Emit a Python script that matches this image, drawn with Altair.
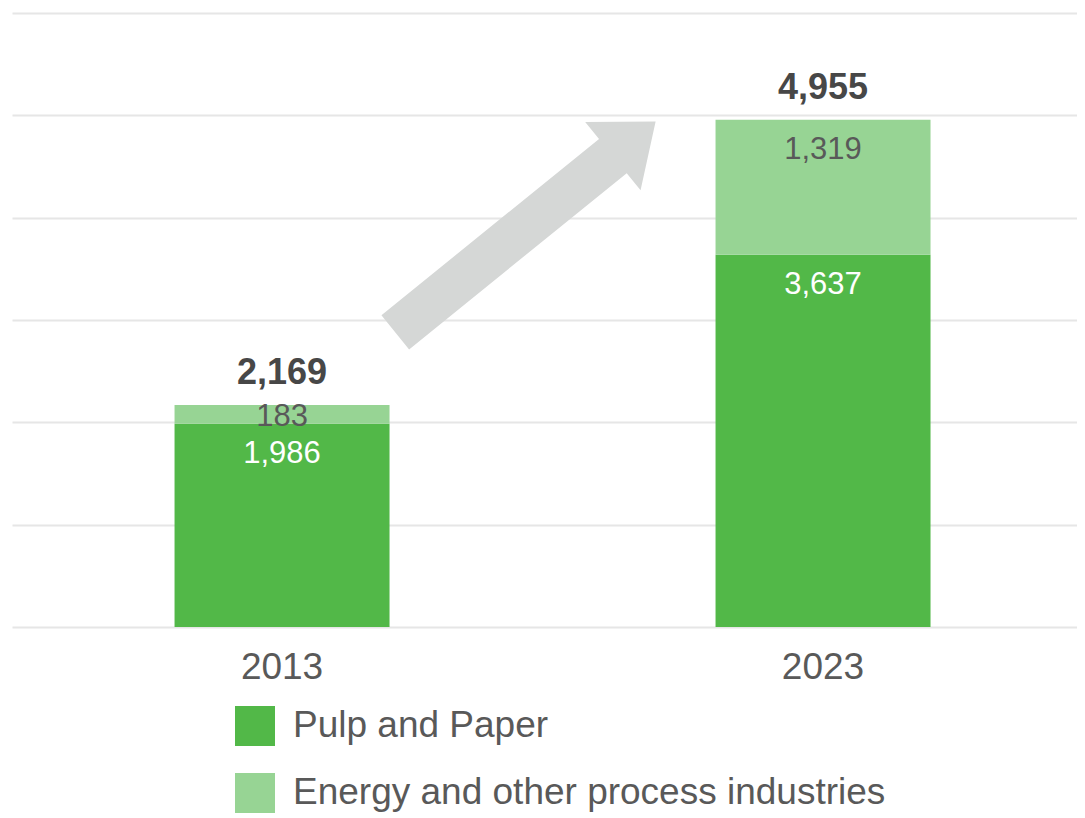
import altair as alt
import pandas as pd

# ---- data ----
years = ["2013", "2023"]
pulp = [1986, 3637]
energy = [183, 1319]
totals = [2169, 4955]
series = ["Pulp and Paper", "Energy and other process industries"]
colors = ["#52b848", "#97d494"]
label_colors = ["#ffffff", "#595959"]
grid_values = [0, 1000, 2000, 3000, 4000, 5000, 6000]
# decorative arrow: centre position in (year, value) units
arrow_x = [2017.5]
arrow_y = [3910]

FONT = "Liberation Sans"

rows = []
for i, yr in enumerate(years):
    base = 0
    for s, vals, lc in [(series[0], pulp, label_colors[0]), (series[1], energy, label_colors[1])]:
        v = vals[i]
        top = base + v
        rows.append(dict(year=yr, series=s, value=v, y0=base, y1=top,
                         label=f"{v:,}", lab_y=top - min(264, v / 2), lab_color=lc))
        base = top
df = pd.DataFrame(rows)
tot = pd.DataFrame({"year": years, "total": totals, "label": [f"{t:,}" for t in totals]})
arr = pd.DataFrame({"ax": arrow_x, "ay": arrow_y})

xscale = alt.Scale(domain=years, paddingInner=0.6026, paddingOuter=0.2856, align=0.526)
yscale = alt.Scale(domain=[0, 6000], nice=False, zero=True)

xaxis = alt.Axis(title=None, labelAngle=0, ticks=False, domain=False,
                 labelFontSize=37, labelColor="#595959", labelPadding=22,
                 labelFont=FONT, grid=False)
yaxis = alt.Axis(title=None, labels=False, ticks=False, domain=False,
                 values=grid_values, grid=True, gridColor="#e6e6e6", gridWidth=2)

ARROW = ("M -1 -0.1313 L 0.6716 -0.1313 L 0.6716 -0.2627 L 1 0 "
         "L 0.6716 0.2627 L 0.6716 0.1313 L -1 0.1313 Z")

bars = alt.Chart(df).mark_bar().encode(
    x=alt.X("year:N", scale=xscale, axis=xaxis),
    y=alt.Y("y0:Q", scale=yscale, axis=yaxis),
    y2="y1:Q",
    color=alt.Color("series:N", scale=alt.Scale(domain=series, range=colors),
                    legend=alt.Legend(title=None, orient="none", legendX=223, legendY=693,
                                      direction="vertical", symbolType="square",
                                      symbolSize=1600, symbolStrokeWidth=0,
                                      labelFontSize=37, labelFont=FONT,
                                      labelColor="#595959", labelOffset=18,
                                      rowPadding=27, padding=0, labelLimit=800)),
)

seg_labels = alt.Chart(df).mark_text(font=FONT, fontSize=31, baseline="middle", dy=3).encode(
    x=alt.X("year:N", scale=xscale, axis=xaxis),
    y=alt.Y("lab_y:Q", scale=yscale, axis=yaxis),
    text="label:N",
    color=alt.Color("lab_color:N", scale=None),
)

total_labels = alt.Chart(tot).mark_text(font=FONT, fontSize=36, fontWeight="bold",
                                        baseline="middle", dy=-32, color="#474747").encode(
    x=alt.X("year:N", scale=xscale, axis=xaxis),
    y=alt.Y("total:Q", scale=yscale, axis=yaxis),
    text="label:N",
)

inner = alt.layer(bars, seg_labels, total_labels)

arrow = alt.Chart(arr).mark_point(shape=ARROW, size=112225, angle=321, filled=True,
                                  color="#d5d7d6", opacity=1, strokeWidth=0).encode(
    x=alt.X("ax:Q", scale=alt.Scale(domain=[2013, 2023], range=[270, 811], zero=False, nice=False),
            axis=None),
    y=alt.Y("ay:Q", scale=yscale, axis=yaxis),
)

chart = alt.layer(inner, arrow).resolve_scale(x="independent").properties(
    width=1065, height=614,
    padding={"left": 4, "top": 5, "right": 0, "bottom": 0},
).configure(font=FONT).configure_view(
    strokeWidth=0, stroke="transparent"
).configure_axis(domain=False)

chart.save("out.html", embed_options={"renderer": "svg", "actions": False})
